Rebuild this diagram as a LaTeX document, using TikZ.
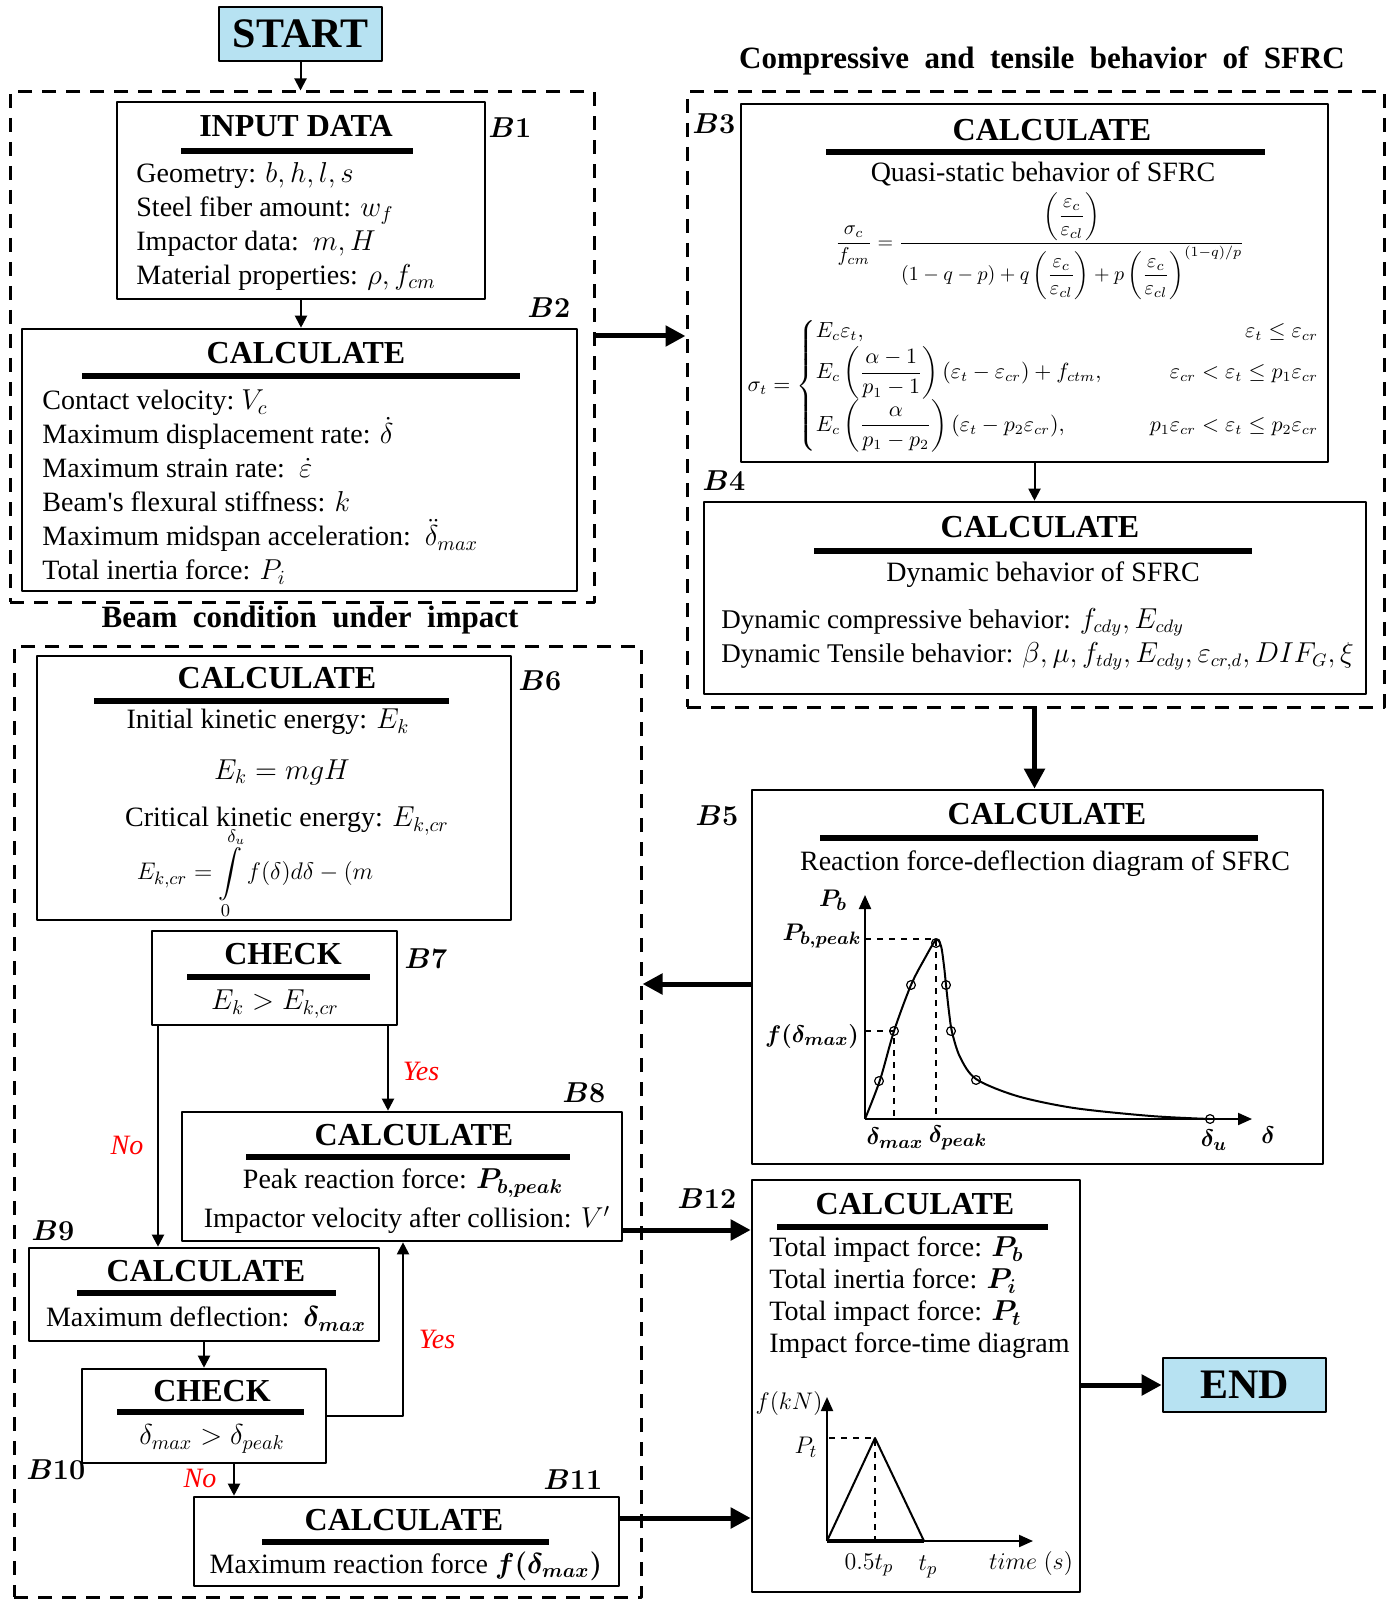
\documentclass[tikz,border=0pt]{standalone}
\usepackage{fontspec}
\setmainfont{Liberation Serif}
\usepackage{amsmath,bm}
\usetikzlibrary{arrows.meta,fit,positioning}
\definecolor{termblue}{RGB}{183,226,242}
\begin{document}
\begin{tikzpicture}[x=0.5pt,y=-0.5pt,line join=round,
	blk/.style={draw,line width=1.3pt,inner sep=0pt},
	grp/.style={draw,line width=1.5pt,dash pattern=on 7pt off 5pt,inner sep=0pt},
	term/.style={blk,fill=termblue,minimum width=81.5pt,minimum height=27pt,font=\fontsize{21}{24}\selectfont\bfseries},
	ttl/.style={font=\fontsize{16}{18}\selectfont\bfseries,inner sep=0pt},
	hd/.style={font=\fontsize{15.5}{18}\selectfont\bfseries,inner sep=0pt},
	txt/.style={font=\fontsize{14}{17}\selectfont,align=left,anchor=west,inner sep=0pt},
	ctr/.style={font=\fontsize{14}{17}\selectfont,inner sep=0pt},
	bno/.style={font=\fontsize{14}{16}\selectfont,inner sep=0pt},
	ans/.style={font=\fontsize{14}{16}\selectfont\itshape,text=red,inner sep=0pt},
	plt/.style={font=\fontsize{13}{15}\selectfont,inner sep=0pt},
	ttlbar/.style={line width=3pt},
	arr/.style={-{Triangle[length=6pt,width=6pt]},line width=1pt},
	fat/.style={-{Triangle[length=10pt,width=10pt]},line width=2.5pt},
	axis/.style={-{Triangle[length=7pt,width=6pt]},line width=1pt}]
	\useasboundingbox (0,0) rectangle (1391,1599);
	% groups
	\node[grp,fit={(10,92)(594,602)}] (g1) {};
	\node[grp,fit={(687,92)(1384,707)}] (g2) {};
	\node[grp,fit={(14,646)(641,1597)}] (g3) {};
	\node[hd] (hd1) at (1042,61) {Compressive\ \ and\ \ tensile\ \ behavior\ \ of\ \ SFRC};
	\node[hd] (hd2) at (310,620) {Beam\ \ condition\ \ under\ \ impact};
	% blocks
	\node[term] (start) at (300.5,34) {START};
	\node[term] (end) at (1244.5,1385) {END};
	\node[blk,fit={(117,102)(485,299)}] (b1) {};
	\node[blk,fit={(22,329)(577,591)}] (b2) {};
	\node[blk,fit={(741,104)(1328,462)}] (b3) {};
	\node[blk,fit={(704,502)(1366,694)}] (b4) {};
	\node[blk,fit={(752,790)(1323,1164)}] (b5) {};
	\node[blk,fit={(37,656)(511,920)}] (b6) {};
	\node[blk,fit={(152,931)(397,1025)}] (b7) {};
	\node[blk,fit={(182,1112)(622,1241)}] (b8) {};
	\node[blk,fit={(29,1248)(379,1341)}] (b9) {};
	\node[blk,fit={(82,1369)(326,1463)}] (b10) {};
	\node[blk,fit={(194,1497)(619,1586)}] (b11) {};
	\node[blk,fit={(752,1180)(1080,1592)}] (b12) {};
	% block numbers
	\node[bno] (n1) at (510,128) {$\bm{B1}$};
	\node[bno] (n2) at (549,308) {$\bm{B2}$};
	\node[bno] (n3) at (714,124) {$\bm{B3}$};
	\node[bno] (n4) at (724,481) {$\bm{B4}$};
	\node[bno] (n5) at (717,816) {$\bm{B5}$};
	\node[bno] (n6) at (540,681) {$\bm{B6}$};
	\node[bno] (n7) at (426,959) {$\bm{B7}$};
	\node[bno] (n8) at (584,1093) {$\bm{B8}$};
	\node[bno] (n9) at (53,1231) {$\bm{B9}$};
	\node[bno] (n10) at (56,1470) {$\bm{B10}$};
	\node[bno] (n11) at (573,1480) {$\bm{B11}$};
	\node[bno] (n12) at (707,1199) {$\bm{B12}$};
	% B1
	\node[ttl] (t1) at (296,126) {INPUT DATA};
	\draw[ttlbar] (181,151) -- (413,151);
	\node[txt] (x1) at (136,226) {Geometry: $b,h,l,s$\\Steel fiber amount: $w_f$\\Impactor data:\ \ $m,H$\\Material properties: $\rho,f_{cm}$};
	% B2
	\node[ttl] (t2) at (306,353) {CALCULATE};
	\draw[ttlbar] (82,376) -- (520,376);
	\node[txt] (x2) at (42,487) {Contact velocity:\ $V_c$\\Maximum displacement rate: $\dot{\delta}$\\Maximum strain rate:\ \ $\dot{\varepsilon}$\\Beam\textquotesingle s flexural stiffness: $k$\\Maximum midspan acceleration:\ \ $\ddot{\delta}_{max}$\\Total inertia force: $P_i$};
	% B3
	\node[ttl] (t3) at (1052,130) {CALCULATE};
	\draw[ttlbar] (826,152) -- (1265,152);
	\node[ctr] (s3) at (1043,174) {Quasi-static behavior of SFRC};
	\node[ctr,font=\fontsize{10}{12}\selectfont] (f1) at (1040,246) {$\dfrac{\sigma_c}{f_{cm}}=\dfrac{\left(\dfrac{\varepsilon_c}{\varepsilon_{cl}}\right)}{(1-q-p)+q\left(\dfrac{\varepsilon_c}{\varepsilon_{cl}}\right)+p\left(\dfrac{\varepsilon_c}{\varepsilon_{cl}}\right)^{(1-q)/p}}$};
	\node[ctr,font=\fontsize{10.5}{12.5}\selectfont] (f2) at (1034,386) {$\sigma_t=\left\{\begin{array}{@{}l@{\hspace{2.3em}}r@{}}
		E_c\varepsilon_t, & \varepsilon_t\le\varepsilon_{cr}\\[1pt]
		E_c\left(\dfrac{\alpha-1}{p_1-1}\right)(\varepsilon_t-\varepsilon_{cr})+f_{ctm}, & \varepsilon_{cr}<\varepsilon_t\le p_1\varepsilon_{cr}\\[1pt]
		E_c\left(\dfrac{\alpha}{p_1-p_2}\right)(\varepsilon_t-p_2\varepsilon_{cr}), & p_1\varepsilon_{cr}<\varepsilon_t\le p_2\varepsilon_{cr}
		\end{array}\right.$};
	% B4
	\node[ttl] (t4) at (1040,527) {CALCULATE};
	\draw[ttlbar] (814,551) -- (1252,551);
	\node[ctr] (s4) at (1043,575) {Dynamic behavior of SFRC};
	\node[txt,font=\fontsize{13.5}{17}\selectfont] (x4) at (721,639) {Dynamic compressive behavior: $f_{cdy},E_{cdy}$\\Dynamic Tensile behavior: $\beta,\mu,f_{tdy},E_{cdy},\varepsilon_{cr,d},DIF_G,\xi$};
	% B5
	\node[ttl] (t5) at (1047,814) {CALCULATE};
	\draw[ttlbar] (820,838) -- (1258,838);
	\node[ctr] (s5) at (1045,864) {Reaction force-deflection diagram of SFRC};
	\draw[axis] (865,1119) -- (865,895);
	\draw[axis] (865,1119) -- (1252,1119);
	\draw[dashed,line width=0.8pt] (865,939) -- (936,939) -- (936,1119) (865,1031) -- (894,1031) -- (894,1119);
	\draw[line width=1pt] plot[smooth,tension=0.5] coordinates {(865,1119) (880,1080) (894,1031) (911,985) (925,958) (936,940) (941,946) (944,966) (946,985) (949,1012) (952,1032) (960,1057) (976,1079) (1017,1096) (1074,1108) (1151,1116) (1210,1119)};
	\foreach \p in {(879,1081),(894,1031),(911,985),(936,943),(946,985),(951,1031),(976,1080),(1210,1119)}
		\draw[line width=0.6pt] \p circle (2.2pt);
	\node[plt] (pb) at (833,900) {$\bm{P_b}$};
	\node[plt] (pbp) at (822,936) {$\bm{P_{b,peak}}$};
	\node[plt] (fdm) at (812,1036) {$\bm{f(\delta_{max})}$};
	\node[plt] (dm) at (895,1138) {$\bm{\delta_{max}}$};
	\node[plt] (dp) at (958,1138) {$\bm{\delta_{peak}}$};
	\node[plt] (du) at (1214,1140) {$\bm{\delta_u}$};
	\node[plt] (dd) at (1268,1135) {$\bm{\delta}$};
	% B6
	\node[ttl] (t6) at (277,678) {CALCULATE};
	\draw[ttlbar] (94,701) -- (449,701);
	\node[ctr] (x6a) at (268,722) {Initial\ kinetic\ energy: $E_k$};
	\node[ctr] (x6b) at (282,772) {$E_k=mgH$};
	\node[ctr] (x6c) at (287,821) {Critical\ kinetic\ energy: $E_{k,cr}$};
	\node[ctr,font=\fontsize{13}{15}\selectfont] (x6d) at (255,873) {$\displaystyle E_{k,cr}=\int\limits_0^{\delta_u} f(\delta)d\delta-(m$};
	% B7
	\node[ttl] (t7) at (283,954) {CHECK};
	\draw[ttlbar] (187,977) -- (370,977);
	\node[ctr] (x7) at (275,1004) {$E_k>E_{k,cr}$};
	% B8
	\node[ttl] (t8) at (414,1135) {CALCULATE};
	\draw[ttlbar] (246,1157) -- (570,1157);
	\node[ctr] (x8a) at (403,1183) {Peak reaction force: $\bm{P_{b,peak}}$};
	\node[ctr] (x8b) at (407,1220) {Impactor velocity after collision: $V'$};
	% B9
	\node[ttl] (t9) at (206,1271) {CALCULATE};
	\draw[ttlbar] (77,1293) -- (336,1293);
	\node[ctr] (x9) at (206,1319) {Maximum deflection:\ \ $\bm{\delta_{max}}$};
	% B10
	\node[ttl] (t10) at (212,1391) {CHECK};
	\draw[ttlbar] (117,1412) -- (304,1412);
	\node[ctr] (x10) at (212,1439) {$\delta_{max}>\delta_{peak}$};
	% B11
	\node[ttl] (t11) at (404,1520) {CALCULATE};
	\draw[ttlbar] (262,1542) -- (549,1542);
	\node[ctr] (x11) at (406,1566) {Maximum reaction force $\bm{f(\delta_{max})}$};
	% B12
	\node[ttl] (t12) at (915,1204) {CALCULATE};
	\draw[ttlbar] (777,1227) -- (1048,1227);
	\node[txt,font=\fontsize{14}{16}\selectfont] (x12) at (769,1298) {Total impact force: $\bm{P_b}$\\Total inertia force: $\bm{P_i}$\\Total impact force: $\bm{P_t}$\\Impact force-time diagram};
	\draw[axis] (827,1541) -- (827,1397);
	\draw[axis] (827,1541) -- (1033,1541);
	\draw[line width=2pt] (827,1541) -- (924,1541);
	\draw[line width=1pt] (827,1541) -- (875,1438) -- (924,1541);
	\draw[dashed,line width=0.8pt] (829,1438) -- (875,1438) -- (875,1541);
	\node[plt] (fk) at (789,1403) {$f(kN)$};
	\node[plt] (pt) at (806,1447) {$P_t$};
	\node[plt] (th) at (869,1565) {$0.5t_p$};
	\node[plt] (tp) at (928,1567) {$t_p$};
	\node[plt] (tm) at (1031,1563) {$time\ (s)$};
	% connectors
	\coordinate (c12) at (0,336);
	\coordinate (c5) at (0,984);
	\coordinate (c8) at (0,1230);
	\coordinate (c11) at (0,1518);
	\coordinate (nox) at (158,0);
	\coordinate (yesx) at (388,0);
	\coordinate (loopx) at (403,0);
	\coordinate (nox2) at (234,0);
	\draw[arr] (start) -- (start |- g1.north);
	\draw[arr] (b1) -- (b1 |- b2.north);
	\draw[fat] (g1.east |- c12) -- (g2.west |- c12);
	\draw[arr] (b3) -- (b3 |- b4.north);
	\draw[fat] (g2.south -| b3.south) -- (b3.south |- b5.north);
	\draw[fat] (b5.west |- c5) -- (g3.east |- c5);
	\draw[arr] (b7.south -| nox) -- (nox |- b9.north);
	\draw[arr] (b7.south -| yesx) -- (yesx |- b8.north);
	\draw[arr] (b9) -- (b9 |- b10.north);
	\draw[arr] (b10.east) -| (loopx |- b8.south);
	\draw[arr] (b10.south -| nox2) -- (nox2 |- b11.north);
	\draw[fat] (b8.east |- c8) -- (b12.west |- c8);
	\draw[fat] (b11.east |- c11) -- (b12.west |- c11);
	\draw[fat] (b12.east |- end) -- (end.west);
	\node[ans] (y1) at (421,1071) {Yes};
	\node[ans] (o1) at (127,1145) {No};
	\node[ans] (y2) at (437,1339) {Yes};
	\node[ans] (o2) at (200,1478) {No};
\end{tikzpicture}
\end{document}
